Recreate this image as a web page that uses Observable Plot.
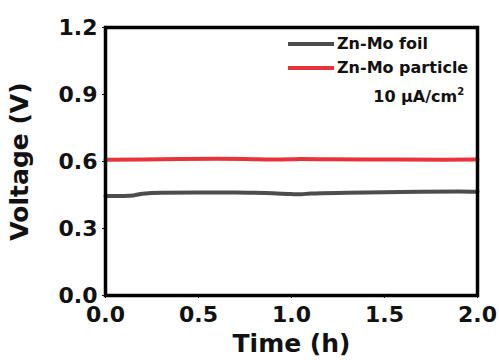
<!DOCTYPE html>
<html><head><meta charset="utf-8">
<script src="https://cdn.jsdelivr.net/npm/d3@7"></script>
<script src="https://cdn.jsdelivr.net/npm/@observablehq/plot@0.6"></script>
<style>
html,body{margin:0;padding:0;background:#fff;}
#wrap{position:relative;width:499px;height:360px;font-family:"DejaVu Sans",sans-serif;font-weight:bold;}
#legend{position:absolute;left:288px;top:32px;font-size:16px;line-height:24px;color:#111;}
#legend .row{display:flex;align-items:center;height:24px;}
#legend .sw{width:46px;height:4px;margin-right:3px;}
#legend .note{justify-content:flex-end;padding-right:4px;font-size:16px;margin-top:2px;}
#legend sup{font-size:10px;vertical-align:7px;}
</style></head>
<body><div id="wrap"><div id="legend"></div></div>
<script>
const timeFoil = [0, 0.1, 0.15, 0.2, 0.3, 0.5, 0.7, 0.8, 0.9, 1.0, 1.05, 1.1, 1.3, 1.5, 1.7, 1.9, 2.0];
const voltFoil = [0.445, 0.446, 0.448, 0.456, 0.460, 0.461, 0.461, 0.460, 0.458, 0.454, 0.453, 0.457, 0.460, 0.462, 0.465, 0.466, 0.465];
const timeParticle = [0, 0.2, 0.4, 0.6, 0.75, 0.9, 1.0, 1.05, 1.2, 1.5, 1.8, 2.0];
const voltParticle = [0.608, 0.609, 0.611, 0.612, 0.611, 0.609, 0.610, 0.611, 0.610, 0.609, 0.608, 0.609];
const seriesNames = ["Zn-Mo foil", "Zn-Mo particle"];
const seriesColors = ["#4d4d4d", "#e8333a"];
const xTicks = [0, 0.5, 1.0, 1.5, 2.0];
const yTicks = [0, 0.3, 0.6, 0.9, 1.2];
const noteText = "10 μA/cm";
const noteSup = "2";

const foil = timeFoil.map((t, i) => ({t, v: voltFoil[i], s: seriesNames[0]}));
const particle = timeParticle.map((t, i) => ({t, v: voltParticle[i], s: seriesNames[1]}));

const chart = Plot.plot({
  width: 499, height: 360,
  marginLeft: 105, marginRight: 22, marginTop: 27, marginBottom: 65,
  style: {fontFamily: "DejaVu Sans, sans-serif", fontWeight: "bold", color: "#111", background: "#fff"},
  x: {domain: [0, 2]},
  y: {domain: [0, 1.2]},
  color: {domain: seriesNames, range: seriesColors},
  marks: [
    Plot.line(foil, {x: "t", y: "v", stroke: "s", strokeWidth: 4, curve: "monotone-x"}),
    Plot.line(particle, {x: "t", y: "v", stroke: "s", strokeWidth: 4, curve: "monotone-x"}),
    Plot.frame({stroke: "#000", strokeWidth: 3.5}),
    Plot.axisX({ticks: xTicks, tickFormat: d3.format(".1f"), tickSize: 3, tickPadding: 8, fontSize: 22,
      label: "Time (h)", labelAnchor: "center", labelArrow: "none", labelOffset: 56}),
    Plot.axisY({ticks: yTicks, tickFormat: d3.format(".1f"), tickSize: 3, tickPadding: 5, fontSize: 22,
      label: "Voltage (V)", labelAnchor: "center", labelArrow: "none", labelOffset: 95})
  ]
});
document.getElementById("wrap").prepend(chart);

chart.querySelectorAll("[aria-label='x-axis label'], [aria-label='y-axis label']").forEach(g => g.setAttribute("font-size", 25));

const leg = document.getElementById("legend");
seriesNames.forEach((n, i) => {
  const r = document.createElement("div"); r.className = "row";
  r.innerHTML = `<div class="sw" style="background:${seriesColors[i]}"></div><span>${n}</span>`;
  leg.appendChild(r);
});
const note = document.createElement("div"); note.className = "row note";
note.innerHTML = `<span>${noteText}<sup>${noteSup}</sup></span>`;
leg.appendChild(note);
</script></body></html>
